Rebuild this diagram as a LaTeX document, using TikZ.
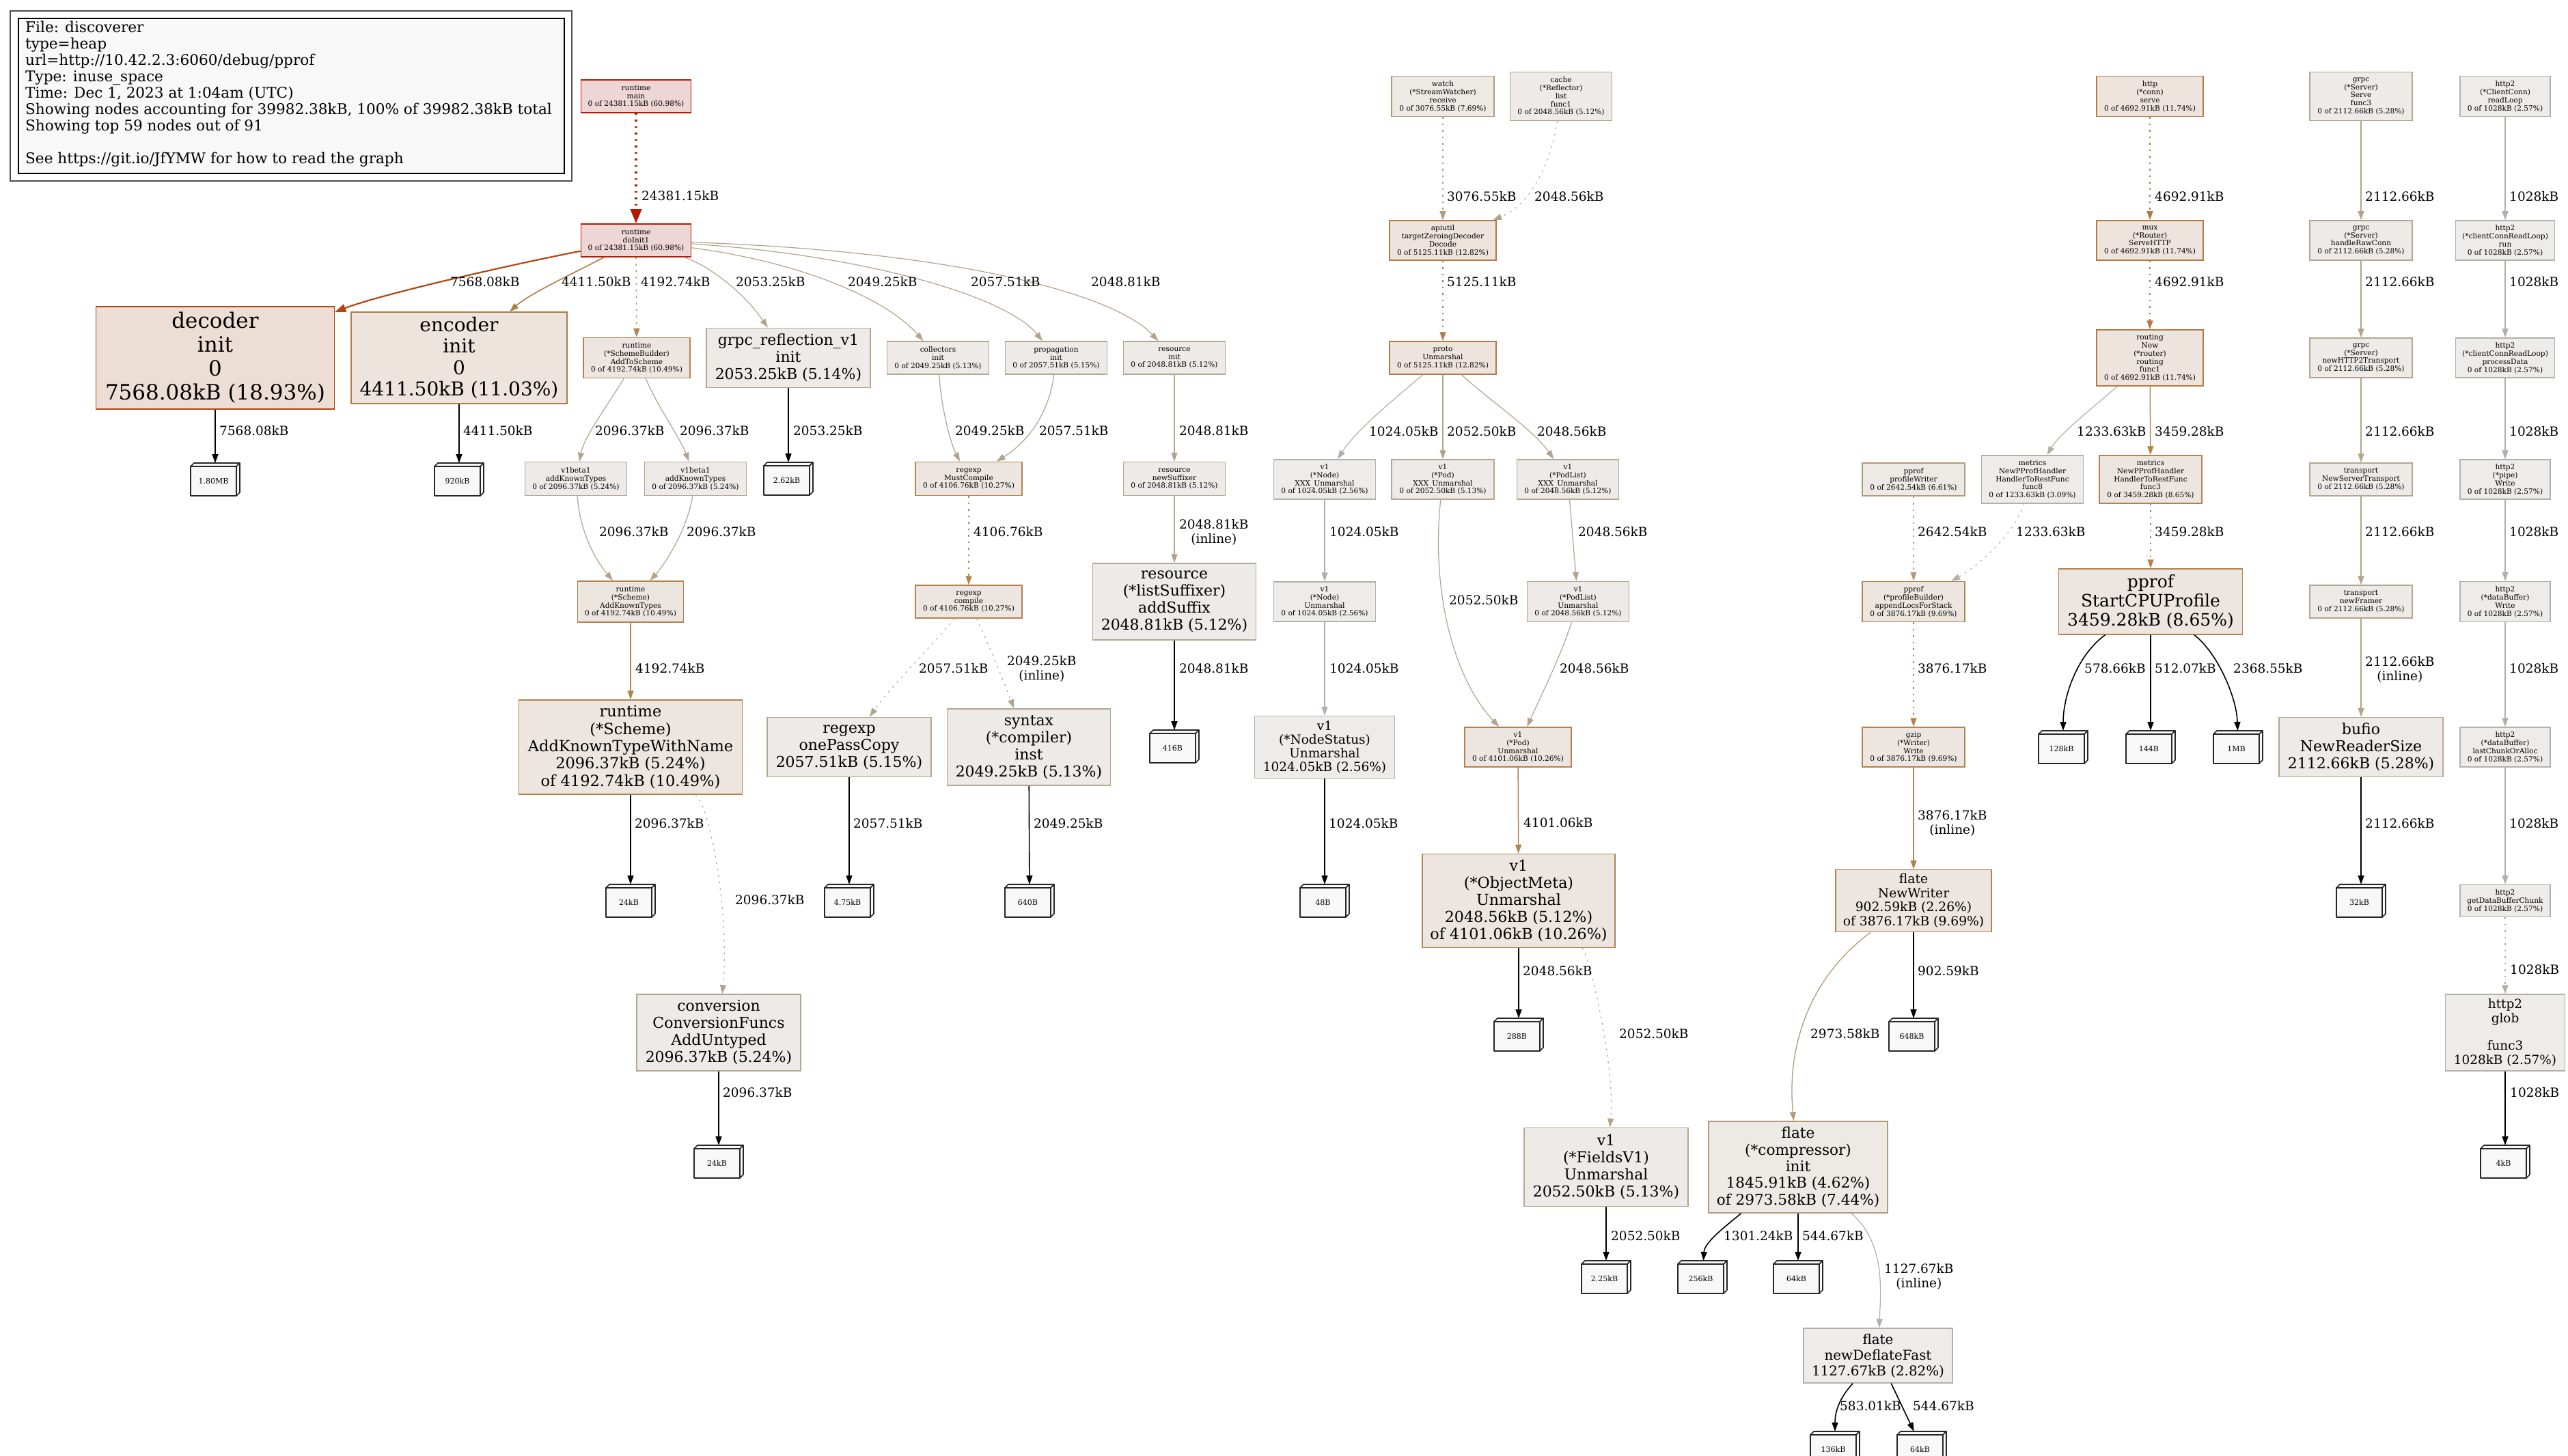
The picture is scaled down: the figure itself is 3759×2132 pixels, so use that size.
\documentclass[tikz,border=0pt]{standalone}
\usepackage{fontspec}
\setmainfont{DejaVu Serif}
\usetikzlibrary{arrows.meta,calc}
\definecolor{bR}{HTML}{B21B00}\definecolor{fR}{HTML}{EDD6D5}
\definecolor{bA}{HTML}{B2470D}\definecolor{fA}{HTML}{EDDED5}
\definecolor{bB}{HTML}{B27A45}\definecolor{fB}{HTML}{EDE4DD}
\definecolor{bC}{HTML}{B2834F}\definecolor{fC}{HTML}{EDE6E0}
\definecolor{bD}{HTML}{B29A7D}\definecolor{fD}{HTML}{EDE9E4}
\definecolor{bE}{HTML}{B2A791}\definecolor{fE}{HTML}{EDEAE7}
\definecolor{bF}{HTML}{B2B0AA}\definecolor{fF}{HTML}{EDECEB}
\definecolor{eE}{HTML}{B2A48C}\definecolor{eF}{HTML}{B2AFA7}
\definecolor{leaffill}{HTML}{F8F8F8}
\newcommand\fnode[7]{\node[fn,#6,minimum width=#4pt,minimum height=#5pt] (#1) at (#2,#3) {#7};}
\newcommand\leafbox[4]{%
  \node[leafbb] (#1) at (#2,#3) {};
  \filldraw[leafline] (#1.south west) rectangle ($(#1.north east)+(-5,5)$);
  \filldraw[leafline] ($(#1.north west)+(0,5)$) -- ($(#1.north west)+(5,0)$) -- (#1.north east) -- ($(#1.north east)+(-5,5)$) -- cycle;
  \filldraw[leafline] ($(#1.north east)+(-5,5)$) -- (#1.north east) -- ($(#1.south east)+(0,-5)$) -- ($(#1.south east)+(-5,0)$) -- cycle;
  \node[leaftext] (#1t) at ($(#1.center)+(-2.5,2.5)$) {#4};}
\begin{document}
\begin{tikzpicture}[x=1pt,y=-1pt,
  fn/.style={draw,rectangle,inner sep=0pt,align=center,line width=1.5pt},
  sm/.style={font=\fontsize{10.6}{11.9}\selectfont},
  fs/.style 2 args={font=\fontsize{#1}{#2}\selectfont},
  c61/.style={draw=bR,fill=fR},
  c19/.style={draw=bA,fill=fA},
  c11/.style={draw=bB,fill=fB},
  c10/.style={draw=bC,fill=fC},
  c7/.style={draw=bD,fill=fD},
  c5/.style={draw=bE,fill=fE},
  c3/.style={draw=bF,fill=fF},
  leafbb/.style={minimum width=72pt,minimum height=48pt,inner sep=0pt,outer sep=0pt},
  leafline/.style={draw=black!85,line width=1.6pt,fill=leaffill,line join=round},
  leaftext/.style={inner sep=0pt,font=\fontsize{11}{12}\selectfont},
  edge/.style={-{Triangle[length=13pt,width=9pt]},line width=1.3pt},
  e61/.style={edge,draw=bR,line width=4pt,-{Triangle[length=21pt,width=16pt]}},
  e19/.style={edge,draw=bA,line width=2.2pt,-{Triangle[length=16pt,width=12pt]}},
  e11/.style={edge,draw=bB,line width=1.6pt},
  e10/.style={edge,draw=bC,line width=1.5pt},
  e7/.style={edge,draw=bD,line width=1.3pt},
  e5/.style={edge,draw=eE,line width=1.2pt},
  e3/.style={edge,draw=eF,line width=1.2pt},
  eK/.style={edge,draw=black,line width=1.6pt},
  dotline/.style={dash pattern=on 2.5pt off 7pt},
  elab/.style={anchor=west,inner sep=0pt,align=center,font=\fontsize{18.5}{21}\selectfont}]
\fill[white] (0,0) rectangle (3759,2132);
\useasboundingbox (0,0) rectangle (3759,2132);
% legend
\draw[line width=2pt,draw=black!70] (15,16) rectangle (837,265);
\draw[line width=2pt,fill=leaffill] (27,27) rectangle (826,254);
\node[anchor=north west,inner sep=0pt,align=left,font=\fontsize{21.6}{24}\selectfont] (legend) at (37,31)
{File: discoverer\\type=heap\\url=http://10.42.2.3:6060/debug/pprof\\Type: inuse\_space\\Time: Dec 1, 2023 at 1:04am (UTC)\\Showing nodes accounting for 39982.38kB, 100\% of 39982.38kB total\\Showing top 59 nodes out of 91\\[24pt]See https://git.io/JfYMW for how to read the graph};
% left part
\fnode{main}{931}{141}{161}{48}{c61,sm}{runtime\\main\\0 of 24381.15kB (60.98\%)}
\fnode{doinit}{931}{352}{161}{48}{c61,sm}{runtime\\doInit1\\0 of 24381.15kB (60.98\%)}
\fnode{decoder}{315}{524}{349}{150}{c19,fs={31}{35}}{decoder\\init\\0\\7568.08kB (18.93\%)}
\fnode{encoder}{672}{524}{316}{134}{c11,fs={28}{31.5}}{encoder\\init\\0\\4411.50kB (11.03\%)}
\fnode{addtoscheme}{932}{524}{156}{59}{c10,sm}{runtime\\(*SchemeBuilder)\\AddToScheme\\0 of 4192.74kB (10.49\%)}
\fnode{grpcrefl}{1154}{524}{240}{87}{c5,fs={22}{25}}{grpc\_reflection\_v1\\init\\2053.25kB (5.14\%)}
\fnode{collectors}{1373}{524}{149}{48}{c5,sm}{collectors\\init\\0 of 2049.25kB (5.13\%)}
\fnode{propagation}{1546}{524}{149}{48}{c5,sm}{propagation\\init\\0 of 2057.51kB (5.15\%)}
\fnode{resinit}{1719}{524}{149}{48}{c5,sm}{resource\\init\\0 of 2048.81kB (5.12\%)}
\fnode{v1ba}{843}{701}{149}{49}{c5,sm}{v1beta1\\addKnownTypes\\0 of 2096.37kB (5.24\%)}
\fnode{v1bb}{1018}{701}{149}{49}{c5,sm}{v1beta1\\addKnownTypes\\0 of 2096.37kB (5.24\%)}
\fnode{mustcompile}{1418}{701}{156}{49}{c10,sm}{regexp\\MustCompile\\0 of 4106.76kB (10.27\%)}
\fnode{newsuffixer}{1719}{701}{149}{49}{c5,sm}{resource\\newSuffixer\\0 of 2048.81kB (5.12\%)}
\fnode{addknowntypes}{923}{881}{155}{60}{c10,sm}{runtime\\(*Scheme)\\AddKnownTypes\\0 of 4192.74kB (10.49\%)}
\fnode{compile}{1418}{881}{156}{48}{c10,sm}{regexp\\compile\\0 of 4106.76kB (10.27\%)}
\fnode{addsuffix}{1719}{881}{239}{112}{c5,fs={22}{25}}{resource\\(*listSuffixer)\\addSuffix\\2048.81kB (5.12\%)}
\fnode{addktwn}{923}{1094}{327}{138}{c10,fs={22.5}{25.3}}{runtime\\(*Scheme)\\AddKnownTypeWithName\\2096.37kB (5.24\%)\\of 4192.74kB (10.49\%)}
\fnode{onepass}{1243}{1094}{240}{87}{c5,fs={22}{25}}{regexp\\onePassCopy\\2057.51kB (5.15\%)}
\fnode{syntaxinst}{1506}{1094}{239}{112}{c5,fs={22}{25}}{syntax\\(*compiler)\\inst\\2049.25kB (5.13\%)}
\fnode{conversion}{1052}{1512}{240}{112}{c5,fs={22}{25}}{conversion\\ConversionFuncs\\AddUntyped\\2096.37kB (5.24\%)}
% middle part
\fnode{watch}{2112}{141}{150}{59}{c7,sm}{watch\\(*StreamWatcher)\\receive\\0 of 3076.55kB (7.69\%)}
\fnode{cache}{2285}{141}{149}{71}{c5,sm}{cache\\(*Reflector)\\list\\func1\\0 of 2048.56kB (5.12\%)}
\fnode{apiutil}{2112}{352}{156}{58}{c11,sm}{apiutil\\targetZeroingDecoder\\Decode\\0 of 5125.11kB (12.82\%)}
\fnode{proto}{2112}{524}{156}{48}{c11,sm}{proto\\Unmarshal\\0 of 5125.11kB (12.82\%)}
\fnode{nodexxx}{1939}{702}{149}{58}{c3,sm}{v1\\(*Node)\\XXX\_Unmarshal\\0 of 1024.05kB (2.56\%)}
\fnode{podxxx}{2112}{702}{150}{58}{c5,sm}{v1\\(*Pod)\\XXX\_Unmarshal\\0 of 2052.50kB (5.13\%)}
\fnode{podlistxxx}{2295}{702}{149}{58}{c5,sm}{v1\\(*PodList)\\XXX\_Unmarshal\\0 of 2048.56kB (5.12\%)}
\fnode{nodeunm}{1939}{881}{149}{58}{c3,sm}{v1\\(*Node)\\Unmarshal\\0 of 1024.05kB (2.56\%)}
\fnode{podlistunm}{2310}{881}{149}{59}{c5,sm}{v1\\(*PodList)\\Unmarshal\\0 of 2048.56kB (5.12\%)}
\fnode{podunm}{2222}{1094}{156}{58}{c10,sm}{v1\\(*Pod)\\Unmarshal\\0 of 4101.06kB (10.26\%)}
\fnode{nodestatus}{1939}{1094}{205}{91}{c3,fs={18.5}{20}}{v1\\(*NodeStatus)\\Unmarshal\\1024.05kB (2.56\%)}
\fnode{objectmeta}{2223}{1319}{282}{137}{c10,fs={22.2}{25}}{v1\\(*ObjectMeta)\\Unmarshal\\2048.56kB (5.12\%)\\of 4101.06kB (10.26\%)}
\fnode{fieldsv1}{2351}{1709}{240}{115}{c5,fs={22}{25}}{v1\\(*FieldsV1)\\Unmarshal\\2052.50kB (5.13\%)}
% right part
\fnode{httpserve}{3147}{141}{156}{59}{c11,sm}{http\\(*conn)\\serve\\0 of 4692.91kB (11.74\%)}
\fnode{mux}{3147}{352}{156}{58}{c11,sm}{mux\\(*Router)\\ServeHTTP\\0 of 4692.91kB (11.74\%)}
\fnode{routing}{3147}{524}{156}{82}{c11,sm}{routing\\New\\(*router)\\routing\\func1\\0 of 4692.91kB (11.74\%)}
\fnode{profwriter}{2801}{702}{150}{48}{c7,sm}{pprof\\profileWriter\\0 of 2642.54kB (6.61\%)}
\fnode{func8}{2975}{702}{149}{70}{c3,sm}{metrics\\NewPProfHandler\\HandlerToRestFunc\\func8\\0 of 1233.63kB (3.09\%)}
\fnode{func3m}{3148}{702}{150}{70}{c10,sm}{metrics\\NewPProfHandler\\HandlerToRestFunc\\func3\\0 of 3459.28kB (8.65\%)}
\fnode{appendlocs}{2801}{881}{150}{59}{c10,sm}{pprof\\(*profileBuilder)\\appendLocsForStack\\0 of 3876.17kB (9.69\%)}
\fnode{startcpu}{3148}{881}{269}{96}{c10,fs={25}{28}}{pprof\\StartCPUProfile\\3459.28kB (8.65\%)}
\fnode{gzip}{2801}{1094}{150}{58}{c10,sm}{gzip\\(*Writer)\\Write\\0 of 3876.17kB (9.69\%)}
\fnode{newwriter}{2801}{1319}{228}{91}{c10,fs={18.7}{20.5}}{flate\\NewWriter\\902.59kB (2.26\%)\\of 3876.17kB (9.69\%)}
\fnode{compressor}{2632}{1709}{262}{134}{c7,fs={21.6}{24.4}}{flate\\(*compressor)\\init\\1845.91kB (4.62\%)\\of 2973.58kB (7.44\%)}
\fnode{deflatefast}{2749}{1985}{218}{80}{c3,fs={19.9}{23}}{flate\\newDeflateFast\\1127.67kB (2.82\%)}
\fnode{serve}{3456}{141}{150}{71}{c5,sm}{grpc\\(*Server)\\Serve\\func3\\0 of 2112.66kB (5.28\%)}
\fnode{rawconn}{3456}{352}{150}{58}{c5,sm}{grpc\\(*Server)\\handleRawConn\\0 of 2112.66kB (5.28\%)}
\fnode{newhtt}{3456}{524}{150}{58}{c5,sm}{grpc\\(*Server)\\newHTTP2Transport\\0 of 2112.66kB (5.28\%)}
\fnode{nst}{3456}{702}{150}{48}{c5,sm}{transport\\NewServerTransport\\0 of 2112.66kB (5.28\%)}
\fnode{framer}{3456}{881}{150}{48}{c5,sm}{transport\\newFramer\\0 of 2112.66kB (5.28\%)}
\fnode{bufio}{3456}{1094}{240}{87}{c5,fs={22}{25}}{bufio\\NewReaderSize\\2112.66kB (5.28\%)}
\fnode{readloop}{3667}{141}{132}{59}{c3,sm}{http2\\(*ClientConn)\\readLoop\\0 of 1028kB (2.57\%)}
\fnode{run}{3667}{352}{145}{58}{c3,sm}{http2\\(*clientConnReadLoop)\\run\\0 of 1028kB (2.57\%)}
\fnode{procdata}{3667}{524}{145}{58}{c3,sm}{http2\\(*clientConnReadLoop)\\processData\\0 of 1028kB (2.57\%)}
\fnode{pipewrite}{3667}{702}{132}{58}{c3,sm}{http2\\(*pipe)\\Write\\0 of 1028kB (2.57\%)}
\fnode{dbwrite}{3667}{881}{132}{59}{c3,sm}{http2\\(*dataBuffer)\\Write\\0 of 1028kB (2.57\%)}
\fnode{lastchunk}{3667}{1094}{132}{58}{c3,sm}{http2\\(*dataBuffer)\\lastChunkOrAlloc\\0 of 1028kB (2.57\%)}
\fnode{getdbc}{3667}{1319}{132}{47}{c3,sm}{http2\\getDataBufferChunk\\0 of 1028kB (2.57\%)}
\fnode{glob}{3667}{1512}{175}{112}{c3,fs={18.4}{20.4}}{http2\\glob\\[20.4pt]func3\\1028kB (2.57\%)}
% leaves
\leafbox{leafDec}{315}{702}{1.80MB}
\leafbox{leafEnc}{672}{702}{920kB}
\leafbox{leafRefl}{1154}{701}{2.62kB}
\leafbox{leafSuf}{1719}{1093}{416B}
\leafbox{leafKT}{923}{1319}{24kB}
\leafbox{leafOP}{1243}{1319}{4.75kB}
\leafbox{leafSyn}{1507}{1319}{640B}
\leafbox{leafNS}{1939}{1319}{48B}
\leafbox{leafConv}{1052}{1701}{24kB}
\leafbox{leafOM}{2223}{1515}{288B}
\leafbox{leafFV}{2351}{1870}{2.25kB}
\leafbox{leafA}{3020}{1094}{128kB}
\leafbox{leafB}{3148}{1094}{144B}
\leafbox{leafC}{3276}{1094}{1MB}
\leafbox{leafNW}{2801}{1515}{648kB}
\leafbox{leafCa}{2492}{1870}{256kB}
\leafbox{leafCb}{2632}{1870}{64kB}
\leafbox{leafDa}{2686}{2120}{136kB}
\leafbox{leafDb}{2813}{2120}{64kB}
\leafbox{leafBuf}{3456}{1319}{32kB}
\leafbox{leafGlob}{3667}{1701}{4kB}
% edges left
\draw[e61,dotline] (main) -- (doinit);
\draw[e19] (doinit) .. controls (760,385) and (560,430) .. (decoder);
\draw[e11] (doinit) .. controls (840,400) and (775,430) .. (encoder);
\draw[e10,dotline] (doinit) -- (addtoscheme);
\draw[e5] (doinit) .. controls (1040,390) and (1090,430) .. (grpcrefl);
\draw[e5] (doinit) .. controls (1180,385) and (1300,440) .. (collectors);
\draw[e5] (doinit) .. controls (1250,372) and (1470,430) .. (propagation);
\draw[e5] (doinit) .. controls (1400,368) and (1630,430) .. (resinit);
\draw[eK] (decoder) -- (leafDec);
\draw[eK] (encoder) -- (leafEnc);
\draw[e5] (addtoscheme) .. controls (885,600) and (855,640) .. (v1ba);
\draw[e5] (addtoscheme) .. controls (965,600) and (995,640) .. (v1bb);
\draw[eK] (grpcrefl) -- (leafRefl);
\draw[e5] (collectors) .. controls (1378,600) and (1392,650) .. (mustcompile);
\draw[e5] (propagation) .. controls (1535,610) and (1500,650) .. (mustcompile);
\draw[e5] (resinit) -- (newsuffixer);
\draw[e5] (v1ba) .. controls (850,790) and (880,830) .. (addknowntypes);
\draw[e5] (v1bb) .. controls (1005,780) and (970,830) .. (addknowntypes);
\draw[e10,dotline] (mustcompile) -- (compile);
\draw[e5] (newsuffixer) -- (addsuffix);
\draw[e10] (addknowntypes) -- (addktwn);
\draw[e5,dotline] (compile) .. controls (1360,950) and (1300,1010) .. (onepass);
\draw[e5,dotline] (compile) .. controls (1450,950) and (1470,1000) .. (syntaxinst);
\draw[eK] (addsuffix) -- (leafSuf);
\draw[eK] (addktwn) -- (leafKT);
\draw[e5,dotline] (addktwn) .. controls (1040,1180) and (1068,1340) .. (conversion);
\draw[eK] (onepass) -- (leafOP);
\draw[eK] (syntaxinst) -- (leafSyn);
\draw[eK] (nodestatus) -- (leafNS);
\draw[eK] (conversion) -- (leafConv);
% edges middle
\draw[e7,dotline] (watch) -- (apiutil);
\draw[e5,dotline] (cache) .. controls (2270,240) and (2240,300) .. (apiutil);
\draw[e11,dotline] (apiutil) -- (proto);
\draw[e3] (proto) .. controls (2040,585) and (1985,630) .. (nodexxx);
\draw[e5] (proto) -- (podxxx);
\draw[e5] (proto) .. controls (2185,590) and (2245,630) .. (podlistxxx);
\draw[e3] (nodexxx) -- (nodeunm);
\draw[e3] (nodeunm) -- (nodestatus);
\draw[e5] (podxxx) .. controls (2095,860) and (2125,990) .. (podunm);
\draw[e5] (podlistxxx) -- (podlistunm);
\draw[e5] (podlistunm) .. controls (2285,960) and (2255,1020) .. (podunm);
\draw[e10] (podunm) -- (objectmeta);
\draw[eK] (objectmeta) -- (leafOM);
\draw[e5,dotline] (objectmeta) .. controls (2325,1395) and (2365,1560) .. (fieldsv1);
\draw[eK] (fieldsv1) -- (leafFV);
% edges right
\draw[e11,dotline] (httpserve) -- (mux);
\draw[e11,dotline] (mux) -- (routing);
\draw[e3] (routing) .. controls (3060,600) and (3015,635) .. (func8);
\draw[e10] (routing) -- (func3m);
\draw[e7,dotline] (profwriter) -- (appendlocs);
\draw[e3,dotline] (func8) .. controls (2945,790) and (2885,835) .. (appendlocs);
\draw[e10,dotline] (func3m) -- (startcpu);
\draw[e10,dotline] (appendlocs) -- (gzip);
\draw[eK] (startcpu) .. controls (3040,960) and (3020,1020) .. (leafA);
\draw[eK] (startcpu) -- (leafB);
\draw[eK] (startcpu) .. controls (3245,955) and (3274,1020) .. (leafC);
\draw[e10] (gzip) -- (newwriter);
\draw[eK] (newwriter) -- (leafNW);
\draw[e7] (newwriter) .. controls (2650,1430) and (2615,1530) .. (compressor);
\draw[eK] (compressor) .. controls (2520,1800) and (2495,1820) .. (leafCa);
\draw[eK] (compressor) -- (leafCb);
\draw[e3] (compressor) .. controls (2760,1820) and (2753,1890) .. (deflatefast);
\draw[eK] (deflatefast) .. controls (2690,2050) and (2686,2070) .. (leafDa);
\draw[eK] (deflatefast) -- (leafDb);
\draw[e5] (serve) -- (rawconn);
\draw[e5] (rawconn) -- (newhtt);
\draw[e5] (newhtt) -- (nst);
\draw[e5] (nst) -- (framer);
\draw[e5] (framer) -- (bufio);
\draw[eK] (bufio) -- (leafBuf);
\draw[e3] (readloop) -- (run);
\draw[e3] (run) -- (procdata);
\draw[e3] (procdata) -- (pipewrite);
\draw[e3] (pipewrite) -- (dbwrite);
\draw[e3] (dbwrite) -- (lastchunk);
\draw[e3] (lastchunk) -- (getdbc);
\draw[e3,dotline] (getdbc) -- (glob);
\draw[eK] (glob) -- (leafGlob);
% edge labels
\node[elab] (l1) at (939,287) {24381.15kB};
\node[elab] (l2) at (659,413) {7568.08kB};
\node[elab] (l3) at (822,413) {4411.50kB};
\node[elab] (l4) at (938,413) {4192.74kB};
\node[elab] (l5) at (1077,413) {2053.25kB};
\node[elab] (l6) at (1241,413) {2049.25kB};
\node[elab] (l7) at (1421,413) {2057.51kB};
\node[elab] (l8) at (1597,413) {2048.81kB};
\node[elab] (l9) at (321,631) {7568.08kB};
\node[elab] (l10) at (678,631) {4411.50kB};
\node[elab] (l11) at (871,631) {2096.37kB};
\node[elab] (l12) at (995,631) {2096.37kB};
\node[elab] (l13) at (1161,631) {2053.25kB};
\node[elab] (l14) at (1398,631) {2049.25kB};
\node[elab] (l15) at (1521,631) {2057.51kB};
\node[elab] (l16) at (1726,631) {2048.81kB};
\node[elab] (l17) at (877,779) {2096.37kB};
\node[elab] (l18) at (1005,779) {2096.37kB};
\node[elab] (l19) at (1425,779) {4106.76kB};
\node[elab] (l20) at (1726,779.5) {2048.81kB\\(inline)};
\node[elab] (l21) at (930,979) {4192.74kB};
\node[elab] (l22) at (1345,979) {2057.51kB};
\node[elab] (l23) at (1474,979.5) {2049.25kB\\(inline)};
\node[elab] (l24) at (1726,979) {2048.81kB};
\node[elab] (l25) at (929,1206) {2096.37kB};
\node[elab] (l26) at (1249,1206) {2057.51kB};
\node[elab] (l27) at (1513,1206) {2049.25kB};
\node[elab] (l28) at (1945,1206) {1024.05kB};
\node[elab] (l29) at (1076,1318) {2096.37kB};
\node[elab] (l30) at (1058,1600) {2096.37kB};
\node[elab] (l31) at (2118,288) {3076.55kB};
\node[elab] (l32) at (2246,288) {2048.56kB};
\node[elab] (l33) at (2118,413) {5125.11kB};
\node[elab] (l34) at (2004,632) {1024.05kB};
\node[elab] (l35) at (2118,632) {2052.50kB};
\node[elab] (l36) at (2250,632) {2048.56kB};
\node[elab] (l37) at (1946,779) {1024.05kB};
\node[elab] (l38) at (2310,779) {2048.56kB};
\node[elab] (l39) at (2121,879) {2052.50kB};
\node[elab] (l40) at (1946,979) {1024.05kB};
\node[elab] (l41) at (2283,979) {2048.56kB};
\node[elab] (l42) at (2230,1205) {4101.06kB};
\node[elab] (l43) at (2229,1422) {2048.56kB};
\node[elab] (l44) at (2370,1514) {2052.50kB};
\node[elab] (l45) at (2358,1810) {2052.50kB};
\node[elab] (l46) at (3154,288) {4692.91kB};
\node[elab] (l47) at (3154,413) {4692.91kB};
\node[elab] (l48) at (3040,632) {1233.63kB};
\node[elab] (l49) at (3154,632) {3459.28kB};
\node[elab] (l50) at (2807,779) {2642.54kB};
\node[elab] (l51) at (2951,779) {1233.63kB};
\node[elab] (l52) at (3154,779) {3459.28kB};
\node[elab] (l53) at (2807,979) {3876.17kB};
\node[elab] (l54) at (3051,979) {578.66kB};
\node[elab] (l55) at (3154,979) {512.07kB};
\node[elab] (l56) at (3269,979) {2368.55kB};
\node[elab] (l57) at (2807,1205.5) {3876.17kB\\(inline)};
\node[elab] (l58) at (2807,1422) {902.59kB};
\node[elab] (l59) at (2650,1514) {2973.58kB};
\node[elab] (l60) at (2523,1810) {1301.24kB};
\node[elab] (l61) at (2638,1810) {544.67kB};
\node[elab] (l62) at (2758,1869.5) {1127.67kB\\(inline)};
\node[elab] (l63) at (2693,2059) {583.01kB};
\node[elab] (l64) at (2800,2059) {544.67kB};
\node[elab] (l65) at (3462,288) {2112.66kB};
\node[elab] (l66) at (3462,413) {2112.66kB};
\node[elab] (l67) at (3462,632) {2112.66kB};
\node[elab] (l68) at (3462,779) {2112.66kB};
\node[elab] (l69) at (3462,980) {2112.66kB\\(inline)};
\node[elab] (l70) at (3462,1206) {2112.66kB};
\node[elab] (l71) at (3673,288) {1028kB};
\node[elab] (l72) at (3673,413) {1028kB};
\node[elab] (l73) at (3673,632) {1028kB};
\node[elab] (l74) at (3673,779) {1028kB};
\node[elab] (l75) at (3673,979) {1028kB};
\node[elab] (l76) at (3673,1206) {1028kB};
\node[elab] (l77) at (3674,1420) {1028kB};
\node[elab] (l78) at (3674,1600) {1028kB};
\end{tikzpicture}
\end{document}
